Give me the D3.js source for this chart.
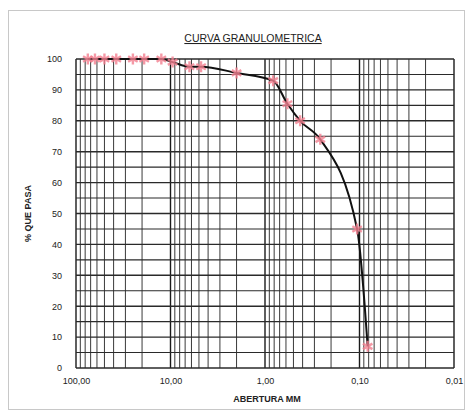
<!DOCTYPE html>
<html>
<head>
<meta charset="utf-8">
<script src="https://cdn.jsdelivr.net/npm/d3@7"></script>
<style>
  body { margin: 0; background: #fff; }
  text { font-family: "Liberation Sans", Arial, sans-serif; fill: #222; }
</style>
</head>
<body>
<svg id="chart" width="465" height="410"></svg>
<script>
// sieve openings (mm) and percent passing
const openings = [75, 63, 50, 37.5, 25, 19, 12.5, 9.5, 6.3, 4.75, 2.0, 0.82, 0.58, 0.425, 0.26, 0.106, 0.082];
const passing = [100, 100, 100, 100, 100, 100, 100, 99, 97.5, 97.5, 95.5, 93, 85.5, 80, 74, 45, 7];

const xTicks = [100, 10, 1, 0.1, 0.01];
const xTickLabels = ['100,00', '10,00', '1,00', '0,10', '0,01'];
const yTicks = [0, 10, 20, 30, 40, 50, 60, 70, 80, 90, 100];

const width = 465;
const height = 410;
const margin = { top: 59, bottom: 42, left: 76, right: 11 };

const svg = d3.select('#chart');

// outer chart frame
svg.append('rect')
   .attr('x', 8.5).attr('y', 10.5)
   .attr('width', width - 9).attr('height', height - 11)
   .attr('fill', 'none')
   .attr('stroke', '#c8c8c8');

const x = d3.scaleLog()
            .domain([100, 0.01])
            .range([margin.left, width - margin.right]);

const y = d3.scaleLinear()
            .domain([0, 100])
            .range([height - margin.bottom, margin.top]);

const grid = svg.append('g').attr('id', 'grid');

// vertical log grid: 1..9 per decade
let minor = [];
[0.01, 0.1, 1, 10].forEach(dec => {
  for (let k = 1; k <= 9; k++) minor.push(dec * k);
});
minor.push(100);

grid.selectAll('line.v')
    .data(minor)
    .enter().append('line')
    .attr('class', 'v')
    .attr('x1', d => x(d)).attr('x2', d => x(d))
    .attr('y1', y(100)).attr('y2', y(0))
    .attr('stroke', d => xTicks.includes(d) ? '#1a1a1a' : '#3a3a3a')
    .attr('stroke-width', d => xTicks.includes(d) ? 1.4 : 1);

// horizontal grid every 5
grid.selectAll('line.h')
    .data(d3.range(0, 101, 5))
    .enter().append('line')
    .attr('class', 'h')
    .attr('x1', x(100)).attr('x2', x(0.01))
    .attr('y1', d => y(d)).attr('y2', d => y(d))
    .attr('stroke', '#2a2a2a')
    .attr('stroke-width', d => d % 10 === 0 ? 1.4 : 1.1);

// axes (labels only, Excel style)
const xAxis = d3.axisBottom(x)
                .tickValues(xTicks)
                .tickFormat((d, i) => xTickLabels[i])
                .tickSize(0)
                .tickPadding(10);

const yAxis = d3.axisLeft(y)
                .tickValues(yTicks)
                .tickSize(0)
                .tickPadding(14);

const xGroup = svg.append('g')
                  .attr('transform', 'translate(0,' + y(0) + ')')
                  .call(xAxis);
const yGroup = svg.append('g')
                  .attr('transform', 'translate(' + x(100) + ',0)')
                  .call(yAxis);

[xGroup, yGroup].forEach(g => {
  g.select('.domain').remove();
  g.selectAll('text').attr('font-size', 9).attr('font-family', '"Liberation Sans", Arial, sans-serif').attr('fill', '#333');
});

// curve
const points = openings.map((d, i) => ({ size: d, pass: passing[i] }));

const line = d3.line()
               .x(d => x(d.size))
               .y(d => y(d.pass))
               .curve(d3.curveMonotoneX);

svg.append('path')
   .datum(points)
   .attr('d', line)
   .attr('fill', 'none')
   .attr('stroke', '#111')
   .attr('stroke-width', 2);

// markers
const star = d3.symbol().type(d3.symbolAsterisk).size(85);
svg.append('g')
   .selectAll('path')
   .data(points)
   .enter().append('path')
   .attr('d', star)
   .attr('transform', d => 'translate(' + x(d.size) + ',' + y(d.pass) + ')')
   .attr('fill', 'none')
   .attr('stroke', '#f27f90')
   .attr('stroke-width', 2.4)
   .attr('opacity', 0.8);

// titles
svg.append('text')
   .attr('x', 253).attr('y', 42)
   .attr('text-anchor', 'middle')
   .attr('font-size', 10.5)
   .attr('text-decoration', 'underline')
   .text('CURVA GRANULOMETRICA');

svg.append('text')
   .attr('x', 267).attr('y', 402)
   .attr('text-anchor', 'middle')
   .attr('font-size', 9)
   .attr('font-weight', 'bold')
   .text('ABERTURA MM');

svg.append('text')
   .attr('transform', 'translate(31,' + ((y(0) + y(100)) / 2) + ') rotate(-90)')
   .attr('text-anchor', 'middle')
   .attr('font-size', 9)
   .attr('font-weight', 'bold')
   .text('% QUE PASA');
</script>
</body>
</html>
